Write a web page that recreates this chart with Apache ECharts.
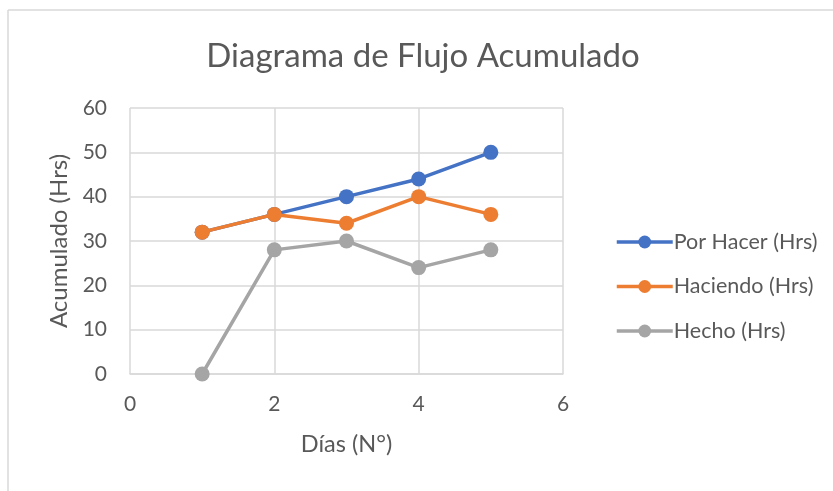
<!DOCTYPE html>
<html>
<head>
<meta charset="utf-8">
<script src="https://cdn.jsdelivr.net/npm/echarts@6/dist/echarts.min.js"></script>
<style>
  html, body { margin: 0; padding: 0; background: #fff; }
  #chart { width: 833px; height: 491px; }
</style>
</head>
<body>
<div id="chart"></div>
<script>
// Days on the x axis
const dias = [1, 2, 3, 4, 5];
// Accumulated hours per state
const porHacer = [32, 36, 40, 44, 50];
const haciendo = [32, 36, 34, 40, 36];
const hecho = [0, 28, 30, 24, 28];

const seriesNames = ['Por Hacer (Hrs)', 'Haciendo (Hrs)', 'Hecho (Hrs)'];
const seriesColors = ['#4472C4', '#ED7D31', '#A5A5A5'];
const seriesValues = [porHacer, haciendo, hecho];

const FONT = 'Lato, "Open Sans", sans-serif';
const TEXT = '#595959';
const GRID = '#d9d9d9';

const chart = echarts.init(document.getElementById('chart'), null, { renderer: 'canvas' });

chart.setOption({
  animation: false,
  backgroundColor: '#ffffff',
  textStyle: { fontFamily: FONT, color: TEXT },
  title: {
    text: 'Diagrama de Flujo Acumulado',
    left: 418, top: 35, textAlign: 'center',
    textStyle: { fontFamily: FONT, fontSize: 33, fontWeight: 'normal', color: TEXT }
  },
  graphic: [
    { type: 'line', shape: { x1: 8, y1: 10, x2: 8, y2: 491 }, style: { stroke: GRID, lineWidth: 1.5 } },
    { type: 'line', shape: { x1: 8, y1: 10, x2: 833, y2: 10 }, style: { stroke: GRID, lineWidth: 1.5 } }
  ],
  grid: { left: 130, right: 270, top: 108, bottom: 117 },
  legend: {
    orient: 'vertical',
    left: 610, top: 226,
    itemWidth: 56, itemHeight: 16, itemGap: 22.5,
    lineStyle: { width: 3.5 },
    textStyle: { fontFamily: FONT, fontSize: 21.5, color: TEXT, padding: [0, 0, 0, -4] },
    data: seriesNames
  },
  xAxis: {
    type: 'value', min: 0, max: 6, interval: 2,
    name: 'Días (N°)', nameLocation: 'middle', nameGap: 58,
    nameTextStyle: { fontFamily: FONT, fontSize: 23.5, color: TEXT },
    axisLine: { show: true, lineStyle: { color: GRID, width: 1.5 } },
    axisTick: { show: false },
    axisLabel: { fontFamily: FONT, fontSize: 21, color: TEXT, margin: 20 },
    splitLine: { show: true, lineStyle: { color: GRID, width: 1.5 } }
  },
  yAxis: {
    type: 'value', min: 0, max: 60, interval: 10,
    name: 'Acumulado (Hrs)', nameLocation: 'middle', nameGap: 58, nameRotate: 90,
    nameTextStyle: { fontFamily: FONT, fontSize: 24, color: TEXT },
    axisLine: { show: false },
    axisTick: { show: false },
    axisLabel: { fontFamily: FONT, fontSize: 21, color: TEXT, margin: 23 },
    splitLine: { show: true, lineStyle: { color: GRID, width: 1.5 } }
  },
  series: seriesNames.map((name, i) => ({
    name: name,
    type: 'line',
    data: dias.map((d, j) => [d, seriesValues[i][j]]),
    symbol: 'circle',
    symbolSize: 15,
    showSymbol: true,
    lineStyle: { width: 3.5, color: seriesColors[i] },
    itemStyle: { color: seriesColors[i] },
    z: 2 + i
  }))
});
</script>
</body>
</html>
